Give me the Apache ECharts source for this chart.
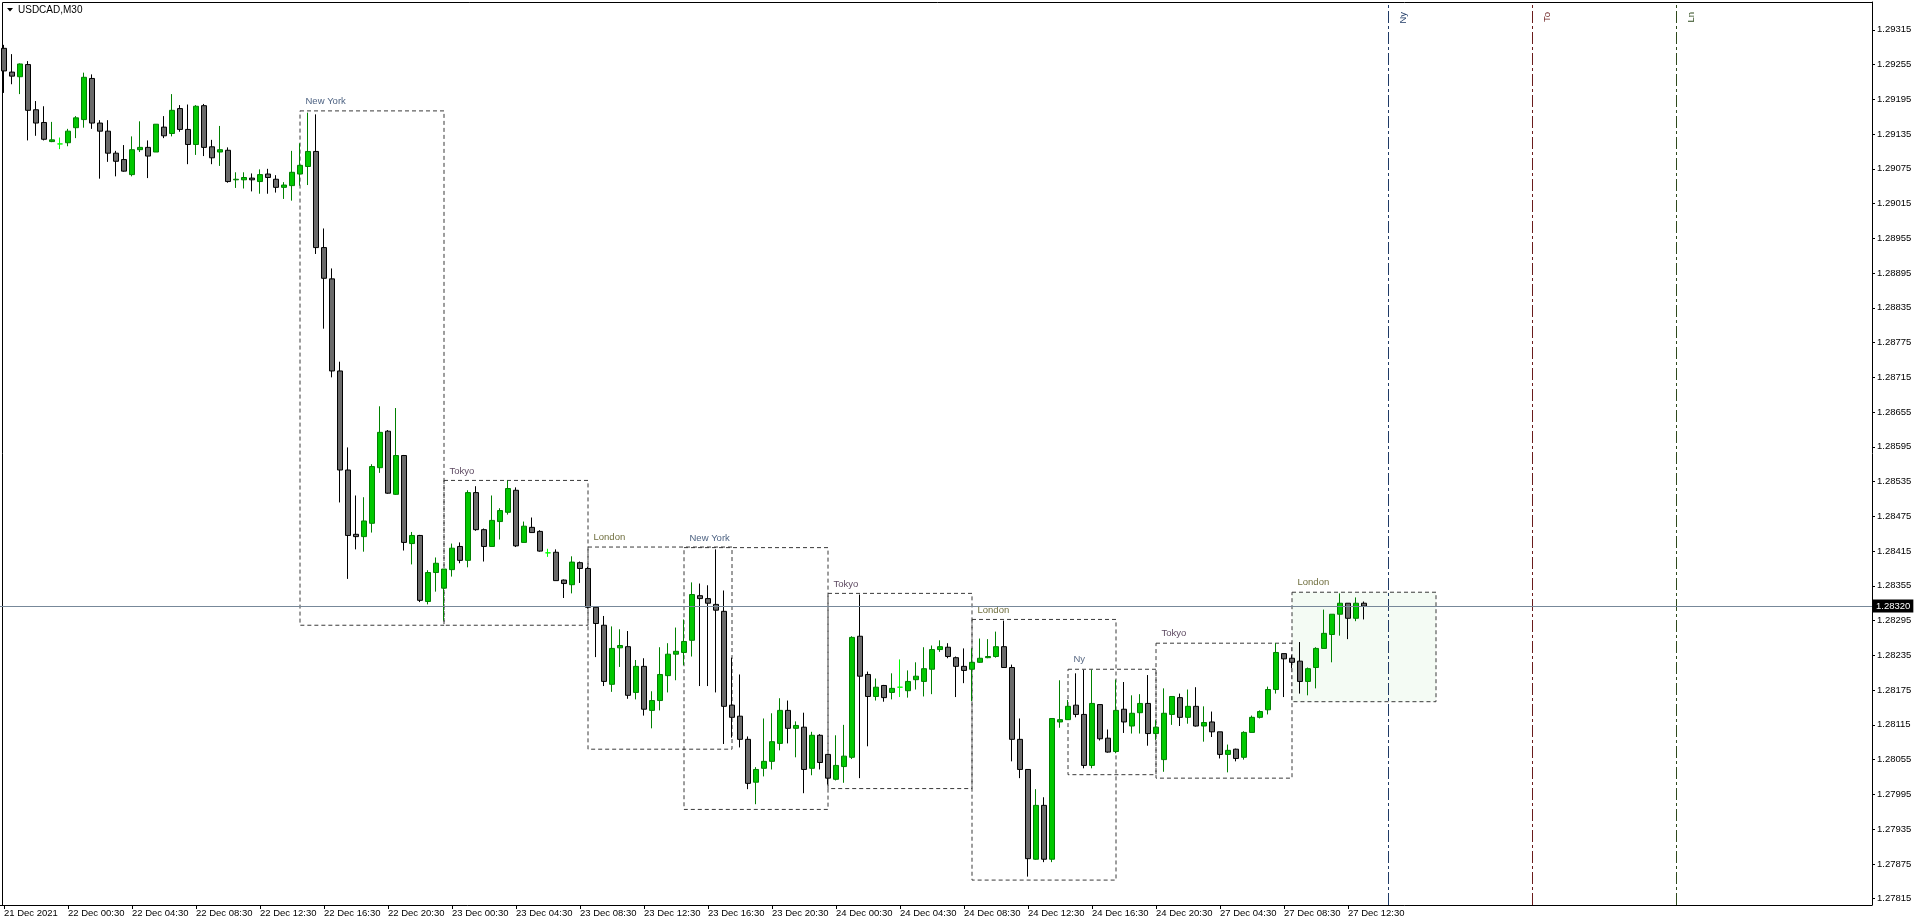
<!DOCTYPE html>
<html>
<head>
<meta charset="utf-8">
<script src="https://cdn.jsdelivr.net/npm/echarts@6/dist/echarts.min.js"></script>
<style>html,body{margin:0;padding:0;background:#fff;}#c{width:1916px;height:923px;}</style>
</head>
<body>
<div id="c"></div>
<script>
// ---- data (USDCAD, M30) ----
const opens = [
1.29283,1.29242,1.29234,1.29255,1.29177,1.29155,1.29122,1.29118,1.29120,1.29146,
1.29160,1.29231,1.29154,1.29140,1.29102,1.29091,1.29065,1.29108,1.29112,1.29104,
1.29147,1.29136,1.29179,1.29143,1.29117,1.29184,1.29113,1.29104,1.29107,1.29056,
1.29056,1.29059,1.29053,1.29066,1.29057,1.29043,1.29046,1.29066,1.29079,1.29105,
1.28939,1.28885,1.28726,1.28555,1.28444,1.28440,1.28463,1.28559,1.28622,1.28513,
1.28580,1.28428,1.28442,1.28328,1.28378,1.28351,1.28383,1.28423,1.28399,1.28516,
1.28452,1.28423,1.28466,1.28482,1.28520,1.28430,1.28456,1.28449,1.28412,1.28413,
1.28365,1.28357,1.28395,1.28385,1.28318,1.28287,1.28185,1.28248,1.28250,1.28171,
1.28216,1.28140,1.28157,1.28200,1.28237,1.28240,1.28261,1.28338,1.28333,1.28323,
1.28311,1.28149,1.28130,1.28090,1.28016,1.28040,1.28052,1.28083,1.28140,1.28109,
1.28111,1.28040,1.28097,1.28064,1.28021,1.28043,1.28059,1.28268,1.28202,1.28164,
1.28183,1.28171,1.28180,1.28174,1.28193,1.28190,1.28211,1.28245,1.28249,1.28231,
1.28216,1.28211,1.28223,1.28231,1.28233,1.28250,1.28214,1.28090,1.28038,1.27883,
1.27976,1.27883,1.28120,1.28124,1.28149,1.28133,1.28045,1.28150,1.28092,1.28069,
1.28142,1.28113,1.28136,1.28152,1.28100,1.28055,1.28133,1.28162,1.28128,1.28147,
1.28113,1.28120,1.28103,1.28064,1.28073,1.28059,1.28102,1.28128,1.28141,1.28176,
1.28238,1.28230,1.28225,1.28190,1.28214,1.28247,1.28271,1.28306,1.28325,1.28299,1.28325
];
const highs = [
1.29289,1.29273,1.29257,1.29261,1.29192,1.29183,1.29156,1.29129,1.29144,1.29166,
1.29241,1.29238,1.29159,1.29159,1.29106,1.29116,1.29131,1.29157,1.29124,1.29152,
1.29166,1.29204,1.29185,1.29186,1.29185,1.29187,1.29125,1.29149,1.29112,1.29069,
1.29069,1.29067,1.29074,1.29075,1.29064,1.29052,1.29106,1.29119,1.29172,1.29169,
1.28972,1.28903,1.28742,1.28594,1.28511,1.28508,1.28565,1.28665,1.28624,1.28662,
1.28581,1.28448,1.28443,1.28382,1.28404,1.28384,1.28428,1.28430,1.28520,1.28527,
1.28454,1.28511,1.28489,1.28537,1.28525,1.28466,1.28473,1.28451,1.28419,1.28418,
1.28366,1.28406,1.28397,1.28388,1.28318,1.28303,1.28285,1.28280,1.28277,1.28227,
1.28230,1.28173,1.28249,1.28256,1.28283,1.28297,1.28361,1.28359,1.28356,1.28418,
1.28347,1.28231,1.28202,1.28095,1.28042,1.28126,1.28135,1.28161,1.28157,1.28121,
1.28136,1.28103,1.28099,1.28064,1.28097,1.28115,1.28268,1.28340,1.28207,1.28195,
1.28184,1.28204,1.28228,1.28209,1.28223,1.28249,1.28252,1.28261,1.28256,1.28233,
1.28247,1.28247,1.28264,1.28263,1.28276,1.28295,1.28219,1.28126,1.28038,1.28004,
1.27990,1.28126,1.28192,1.28158,1.28204,1.28210,1.28210,1.28150,1.28107,1.28193,
1.28189,1.28166,1.28168,1.28201,1.28123,1.28178,1.28164,1.28169,1.28176,1.28180,
1.28147,1.28138,1.28103,1.28081,1.28074,1.28104,1.28131,1.28140,1.28181,1.28256,
1.28238,1.28235,1.28258,1.28214,1.28249,1.28314,1.28306,1.28342,1.28325,1.28335,1.28328
];
const lows = [
1.29206,1.29221,1.29204,1.29124,1.29132,1.29124,1.29121,1.29109,1.29114,1.29128,
1.29146,1.29144,1.29058,1.29087,1.29062,1.29070,1.29062,1.29104,1.29059,1.29104,
1.29128,1.29131,1.29139,1.29083,1.29099,1.29097,1.29083,1.29080,1.29051,1.29042,
1.29041,1.29036,1.29032,1.29032,1.29034,1.29023,1.29020,1.29046,1.29047,1.28928,
1.28799,1.28715,1.28499,1.28367,1.28418,1.28414,1.28447,1.28550,1.28514,1.28512,
1.28416,1.28392,1.28327,1.28323,1.28345,1.28295,1.28371,1.28394,1.28387,1.28450,
1.28397,1.28423,1.28435,1.28478,1.28422,1.28430,1.28447,1.28414,1.28405,1.28364,
1.28334,1.28342,1.28360,1.28316,1.28232,1.28182,1.28172,1.28215,1.28160,1.28159,
1.28131,1.28109,1.28140,1.28171,1.28192,1.28218,1.28233,1.28182,1.28182,1.28171,
1.28082,1.28093,1.28076,1.28004,1.27978,1.28026,1.28038,1.28071,1.28083,1.28059,
1.27997,1.28028,1.28038,1.28012,1.28019,1.28015,1.28056,1.28023,1.28078,1.28157,
1.28155,1.28159,1.28163,1.28162,1.28176,1.28164,1.28168,1.28241,1.28230,1.28163,
1.28187,1.28156,1.28222,1.28230,1.28231,1.28214,1.28052,1.28023,1.27853,1.27882,
1.27878,1.27878,1.28110,1.28124,1.28128,1.28040,1.28040,1.28088,1.28067,1.28066,
1.28101,1.28100,1.28100,1.28079,1.28089,1.28034,1.28115,1.28113,1.28117,1.28112,
1.28086,1.28094,1.28057,1.28033,1.28052,1.28055,1.28102,1.28126,1.28133,1.28169,
1.28163,1.28213,1.28169,1.28166,1.28178,1.28247,1.28223,1.28269,1.28263,1.28294,1.28297
];
const closes = [
1.29244,1.29235,1.29256,1.29176,1.29154,1.29126,1.29125,1.29118,1.29140,1.29163,
1.29233,1.29154,1.29140,1.29102,1.29088,1.29071,1.29108,1.29112,1.29097,1.29152,
1.29132,1.29176,1.29143,1.29117,1.29183,1.29112,1.29094,1.29108,1.29053,1.29057,
1.29060,1.29056,1.29065,1.29060,1.29043,1.29047,1.29069,1.29081,1.29105,1.28939,
1.28886,1.28726,1.28555,1.28442,1.28440,1.28467,1.28561,1.28620,1.28515,1.28580,
1.28430,1.28442,1.28330,1.28378,1.28394,1.28384,1.28420,1.28399,1.28516,1.28452,
1.28423,1.28468,1.28485,1.28523,1.28424,1.28458,1.28447,1.28415,1.28412,1.28364,
1.28359,1.28396,1.28385,1.28318,1.28290,1.28190,1.28247,1.28252,1.28166,1.28216,
1.28142,1.28157,1.28202,1.28237,1.28242,1.28259,1.28340,1.28333,1.28325,1.28313,
1.28147,1.28128,1.28090,1.28014,1.28038,1.28052,1.28086,1.28140,1.28109,1.28114,
1.28038,1.28097,1.28050,1.28023,1.28045,1.28061,1.28266,1.28199,1.28164,1.28180,
1.28162,1.28178,1.28180,1.28190,1.28199,1.28212,1.28245,1.28250,1.28233,1.28216,
1.28209,1.28223,1.28230,1.28233,1.28250,1.28214,1.28090,1.28038,1.27884,1.27976,
1.27883,1.28126,1.28124,1.28147,1.28133,1.28045,1.28152,1.28091,1.28068,1.28140,
1.28120,1.28135,1.28152,1.28100,1.28111,1.28135,1.28164,1.28128,1.28147,1.28113,
1.28119,1.28103,1.28064,1.28071,1.28057,1.28102,1.28128,1.28138,1.28176,1.28240,
1.28229,1.28223,1.28190,1.28212,1.28247,1.28273,1.28306,1.28325,1.28299,1.28325,1.28320
];
const timeLabels = ['21 Dec 2021','22 Dec 00:30','22 Dec 04:30','22 Dec 08:30','22 Dec 12:30','22 Dec 16:30',
  '22 Dec 20:30','23 Dec 00:30','23 Dec 04:30','23 Dec 08:30','23 Dec 12:30','23 Dec 16:30','23 Dec 20:30',
  '24 Dec 00:30','24 Dec 04:30','24 Dec 08:30','24 Dec 12:30','24 Dec 16:30','24 Dec 20:30',
  '27 Dec 04:30','27 Dec 08:30','27 Dec 12:30'];
const labelStep = 8;        // bars between time labels
const slotCount = 234;      // bar slots visible on the chart (incl. empty future)
const priceTicks = [1.27815,1.27875,1.27935,1.27995,1.28055,1.28115,1.28175,1.28235,1.28295,1.28355,
  1.28415,1.28475,1.28535,1.28595,1.28655,1.28715,1.28775,1.28835,1.28895,1.28955,
  1.29015,1.29075,1.29135,1.29195,1.29255,1.29315];
const priceMin = 1.27804, priceMax = 1.29363;
const lastPrice = 1.28320;

const sessionNames = ['New York','Tokyo','London','New York','Tokyo','London','Ny','Tokyo','London'];
const sessionStart = [37,55,73,85,103,121,133,144,161];
const sessionEnd   = [55,73,91,103,121,139,144,161,179];
const sessionHigh  = [1.29175,1.28537,1.28422,1.28421,1.28342,1.28297,1.28211,1.28256,1.28344];
const sessionLow   = [1.28287,1.28287,1.28073,1.27969,1.28005,1.27847,1.28029,1.28023,1.28155];
const sessionFill  = [null,null,null,null,null,null,null,null,'#f4fbf4'];

const futureNames = ['Ny','To','Ln'];
const futureIndex = [173,191,209];
const futureColors = ['#1f3a66','#6a1c1c','#2e4a1c'];

// ---- build ----
const FONT = '"Liberation Sans", Arial, sans-serif';
const labelColor = { 'New York': '#4d6282', 'Ny': '#5a6a84', 'Tokyo': '#5e4a62', 'London': '#6f6e3e' };
const slots = Array.from({ length: slotCount }, (_, i) => i);
const showAt = (i) => i % labelStep === 0 && i / labelStep < timeLabels.length;

const candles = opens.map((o, i) => {
  const v = [o, closes[i], lows[i], highs[i]];
  if (o === closes[i]) {
    return { value: v, itemStyle: { borderColor: '#00ff00', borderColor0: '#00ff00', borderColorDoji: '#00ff00', color: '#00ff00', color0: '#00ff00' } };
  }
  return v;
});

const areaData = sessionNames.map((n, i) => [
  { name: n, xAxis: sessionStart[i], yAxis: sessionHigh[i],
    itemStyle: { color: sessionFill[i] || 'rgba(0,0,0,0)' },
    label: { color: labelColor[n] } },
  { xAxis: sessionEnd[i], yAxis: sessionLow[i] }
]);

const futureLines = futureNames.map((n, i) => ({
  xAxis: futureIndex[i],
  lineStyle: { color: futureColors[i], type: [12, 3, 3, 3], width: 1 },
  label: { show: true, formatter: n, position: 'insideEndBottom', distance: 10, color: futureColors[i], fontSize: 9.5, fontFamily: FONT }
}));
const priceLine = [{
  yAxis: lastPrice,
  lineStyle: { color: '#778899', type: 'solid', width: 1 },
  label: { show: true, position: 'end', distance: 1, formatter: lastPrice.toFixed(5),
    backgroundColor: '#000', color: '#fff', padding: [2, 3, 1, 3], fontSize: 9.5, fontFamily: FONT }
}];

const chart = echarts.init(document.getElementById('c'), null, { renderer: 'canvas' });
chart.setOption({
  animation: false,
  backgroundColor: '#ffffff',
  title: { text: 'USDCAD,M30', left: 18, top: 5, padding: 0,
    textStyle: { fontSize: 10, fontWeight: 'normal', color: '#000', fontFamily: FONT } },
  graphic: [
    { type: 'polyline', silent: true, shape: { points: [[2.5, 905], [2.5, 2.5], [1872, 2.5]] },
      style: { stroke: '#000', lineWidth: 1, fill: null } },
    { type: 'polygon', silent: true, shape: { points: [[7, 8], [13, 8], [10, 11.5]] }, style: { fill: '#000' } }
  ],
  grid: { left: 0, right: 44, top: 2, bottom: 18, containLabel: false },
  xAxis: {
    type: 'category', data: slots, boundaryGap: true,
    axisLine: { show: true, lineStyle: { color: '#000', width: 1 } },
    axisTick: { show: true, alignWithLabel: true, interval: (i) => showAt(i), length: 4, lineStyle: { color: '#000' } },
    axisLabel: { interval: (i) => showAt(i), formatter: (v, i) => timeLabels[i / labelStep] || '',
      align: 'left', margin: 3, color: '#000', fontSize: 9.5, fontFamily: FONT },
    splitLine: { show: false }
  },
  yAxis: {
    type: 'value', position: 'right', min: priceMin, max: priceMax,
    axisLine: { show: true, lineStyle: { color: '#000', width: 1 } },
    axisTick: { show: true, customValues: priceTicks, length: 3, lineStyle: { color: '#000' } },
    axisLabel: { customValues: priceTicks, formatter: (v) => v.toFixed(5), align: 'left', margin: 5,
      showMinLabel: true, showMaxLabel: true,
      color: '#000', fontSize: 9.5, fontFamily: FONT },
    splitLine: { show: false }
  },
  series: [
    { type: 'line', data: [], z: 1, silent: true,
      markArea: {
        silent: true,
        itemStyle: { borderColor: '#3a3a3a', borderWidth: 1, borderType: [4, 3] },
        label: { show: true, position: [6, -14], fontSize: 9.5, fontFamily: FONT },
        emphasis: { disabled: true },
        data: areaData
      },
      markLine: { silent: true, precision: 5, symbol: ['none', 'none'], animation: false, emphasis: { disabled: true }, data: futureLines }
    },
    { type: 'candlestick', z: 2, silent: true, barWidth: 5, data: candles,
      itemStyle: { color: '#00c800', color0: '#6a6a6a', borderColor: '#008000', borderColor0: '#000000', borderWidth: 1 },
      emphasis: { disabled: true },
      markLine: { silent: true, precision: 5, symbol: ['none', 'none'], animation: false, emphasis: { disabled: true }, data: priceLine } }
  ]
});
</script>
</body>
</html>
